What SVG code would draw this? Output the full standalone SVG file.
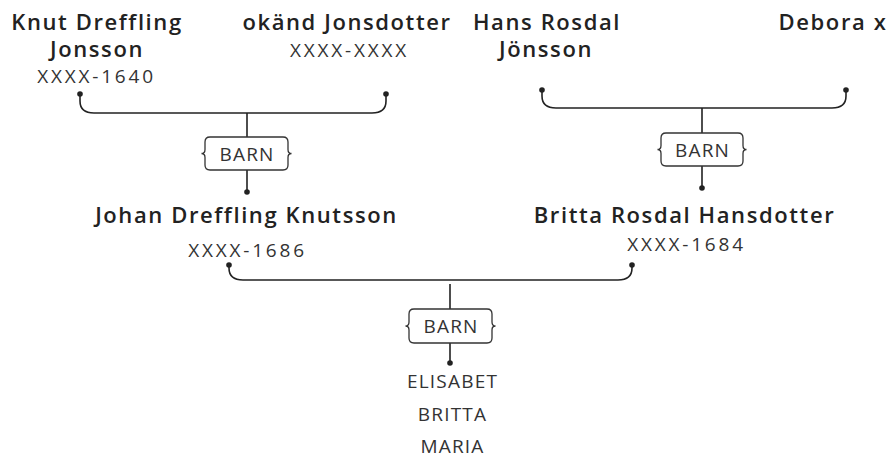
<svg xmlns="http://www.w3.org/2000/svg" width="889" height="458" viewBox="0 0 889 458">
<style>
.name{font-family:"Open Sans","Noto Sans",sans-serif;font-weight:600;font-size:22px;letter-spacing:1.6px;fill:#222;text-anchor:middle}
.date{font-family:"Open Sans","Noto Sans",sans-serif;font-weight:400;font-size:19px;letter-spacing:2.8px;fill:#333;text-anchor:middle}
.lbl{font-family:"Open Sans","Noto Sans",sans-serif;font-weight:400;font-size:19px;letter-spacing:1.2px;fill:#333;text-anchor:middle}
.ln{fill:none;stroke:#222;stroke-width:1.6}
.box{fill:#fff;stroke:#333;stroke-width:1.3}
.dot{fill:#222}
</style>
<rect width="889" height="458" fill="#fff"/>
<g id="connectors">
  <path class="ln" d="M80,94 V101 Q80,113 94,113 H372 Q386,113 386,101 V94"/>
  <path class="ln" d="M247,113 V137 M247,170 V192"/>
  <circle class="dot" cx="80" cy="94" r="2.8"/>
  <circle class="dot" cx="386" cy="94" r="2.8"/>
  <circle class="dot" cx="247" cy="192" r="2.8"/>
  <path class="ln" d="M542,90 V96 Q542,108 556,108 H832 Q846,108 846,96 V90"/>
  <path class="ln" d="M702,108 V133 M702,166 V188"/>
  <circle class="dot" cx="542" cy="90" r="2.8"/>
  <circle class="dot" cx="846" cy="90" r="2.8"/>
  <circle class="dot" cx="702" cy="188" r="2.8"/>
  <path class="ln" d="M229,265 V268 Q229,280 243,280 H618 Q632,280 632,268 V265"/>
  <path class="ln" d="M450,284 V309 M450,343 V363"/>
  <circle class="dot" cx="229" cy="265" r="2.8"/>
  <circle class="dot" cx="632" cy="265" r="2.8"/>
  <circle class="dot" cx="450" cy="363" r="2.8"/>
</g>
<g id="knut">
  <text class="name" x="97" y="30">Knut Dreffling</text>
  <text class="name" x="97" y="57">Jonsson</text>
  <text class="date" x="96.5" y="83">XXXX-1640</text>
</g>
<g id="okand">
  <text class="name" x="347" y="30">okänd Jonsdotter</text>
  <text class="date" x="349.5" y="57">XXXX-XXXX</text>
</g>
<g id="hans">
  <text class="name" x="547" y="30">Hans Rosdal</text>
  <text class="name" x="546" y="57">Jönsson</text>
</g>
<g id="debora">
  <text class="name" x="833" y="30">Debora x</text>
</g>
<g id="barn1">
  <path class="box" d="M210,137 H283 Q288,137 288,142 V149.5 Q288,153.5 291.5,153.5 Q288,153.5 288,157.5 V165 Q288,170 283,170 H210 Q205,170 205,165 V157.5 Q205,153.5 201.5,153.5 Q205,153.5 205,149.5 V142 Q205,137 210,137 Z"/>
  <text class="lbl" x="247" y="160.5">BARN</text>
</g>
<g id="barn2">
  <path class="box" d="M666,133 H738 Q743,133 743,138 V145.5 Q743,149.5 746.5,149.5 Q743,149.5 743,153.5 V161 Q743,166 738,166 H666 Q661,166 661,161 V153.5 Q661,149.5 657.5,149.5 Q661,149.5 661,145.5 V138 Q661,133 666,133 Z"/>
  <text class="lbl" x="702.5" y="156.5">BARN</text>
</g>
<g id="johan">
  <text class="name" x="246.5" y="223">Johan Dreffling Knutsson</text>
  <text class="date" x="247.5" y="257">XXXX-1686</text>
</g>
<g id="britta">
  <text class="name" x="684.5" y="223">Britta Rosdal Hansdotter</text>
  <text class="date" x="686.5" y="251">XXXX-1684</text>
</g>
<g id="barn3">
  <path class="box" d="M414,309 H487 Q492,309 492,314 V322 Q492,326 495.5,326 Q492,326 492,330 V338 Q492,343 487,343 H414 Q409,343 409,338 V330 Q409,326 405.5,326 Q409,326 409,322 V314 Q409,309 414,309 Z"/>
  <text class="lbl" x="451" y="333">BARN</text>
</g>
<g id="children">
  <text class="lbl" x="452.5" y="388">ELISABET</text>
  <text class="lbl" x="452.5" y="421">BRITTA</text>
  <text class="lbl" x="452.5" y="453">MARIA</text>
</g>
</svg>
